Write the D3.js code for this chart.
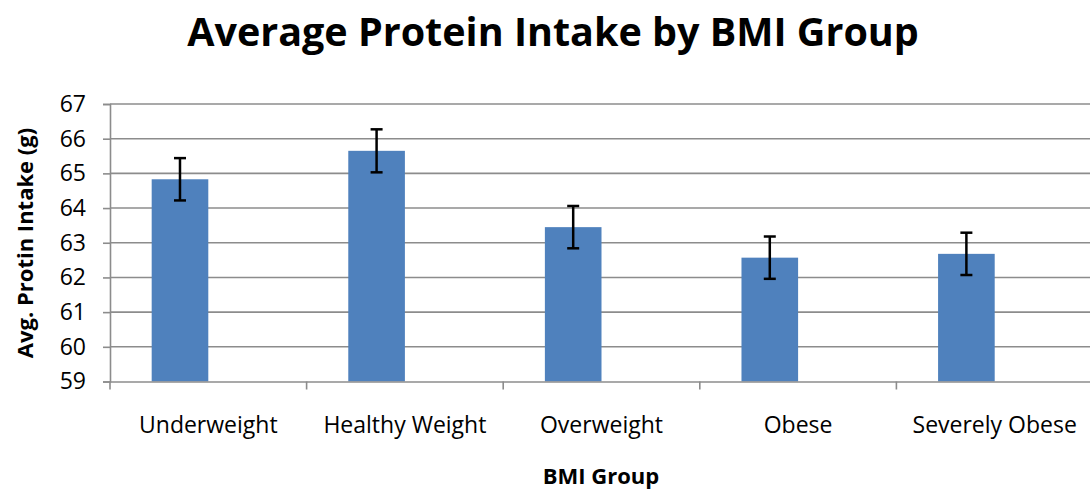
<!DOCTYPE html>
<html>
<head>
<meta charset="utf-8">
<script src="https://cdn.jsdelivr.net/npm/d3@7"></script>
<style>
  html, body { margin: 0; padding: 0; background: #fff; }
  svg { display: block; }
  text { font-family: "Open Sans", Lato, sans-serif; fill: #000; }
</style>
</head>
<body>
<svg id="chart" width="1090" height="491"></svg>
<script>
const categories = ["Underweight", "Healthy Weight", "Overweight", "Obese", "Severely Obese"];
const values = [64.83, 65.65, 63.45, 62.57, 62.68];
const errors = [0.61, 0.62, 0.61, 0.61, 0.61];
const yTicks = [59, 60, 61, 62, 63, 64, 65, 66, 67];
const titleText = "Average Protein Intake by BMI Group";
const xTitle = "BMI Group";
const yTitle = "Avg. Protin Intake (g)";

const svg = d3.select("#chart");
const pLeft = 110, pRight = 1093, pTop = 104, pBottom = 381.5;

const x = d3.scaleBand().domain(categories).range([pLeft, pRight]).padding(0);
const y = d3.scaleLinear().domain([59, 67]).range([pBottom, pTop]);
const barW = x.bandwidth() * 0.288;

// gridlines
svg.append("g").selectAll("line").data(yTicks.slice(1)).join("line")
  .attr("x1", pLeft).attr("x2", pRight)
  .attr("y1", d => y(d)).attr("y2", d => y(d))
  .attr("stroke", "#8c8c8c").attr("stroke-width", 1.6);

// bars
svg.append("g").selectAll("rect").data(categories).join("rect")
  .attr("x", (d) => x(d) + x.bandwidth() / 2 - barW)
  .attr("width", barW)
  .attr("y", (d, i) => y(values[i]))
  .attr("height", (d, i) => y(59) - y(values[i]))
  .attr("fill", "#4f81bd");

// y axis
const yAxis = d3.axisLeft(y).tickValues(yTicks).tickSize(7).tickPadding(17).tickFormat(d3.format("d"));
const gy = svg.append("g").attr("transform", `translate(${pLeft},0)`).call(yAxis);
gy.select(".domain").attr("stroke", "#8c8c8c").attr("stroke-width", 1.6);
gy.selectAll(".tick line").attr("stroke", "#8c8c8c").attr("stroke-width", 1.6);
gy.selectAll("text").style("font-size", "23px").attr("font-family", "'Open Sans', Lato, sans-serif").attr("fill", "#000");

// x axis
const xAxis = d3.axisBottom(x).tickSize(0).tickPadding(0);
const gx = svg.append("g").attr("transform", `translate(0,${pBottom})`).call(xAxis);
gx.select(".domain").attr("stroke", "#8c8c8c").attr("stroke-width", 1.6);
gx.selectAll(".tick text").style("font-size", "23px").attr("font-family", "'Open Sans', Lato, sans-serif")
  .attr("fill", "#000").attr("dy", 0).attr("y", 51);
// boundary ticks between categories
const bounds = categories.map(c => x(c)).concat([pRight]);
gx.append("g").selectAll("line").data(bounds).join("line")
  .attr("x1", d => d).attr("x2", d => d).attr("y1", 0).attr("y2", 8)
  .attr("stroke", "#8c8c8c").attr("stroke-width", 1.6);

// error bars
const eg = svg.append("g");
categories.forEach((c, i) => {
  const cx = x(c) + x.bandwidth() / 2 - barW / 2;
  const y1 = y(values[i] + errors[i]), y2 = y(values[i] - errors[i]);
  eg.append("line").attr("x1", cx).attr("x2", cx).attr("y1", y1).attr("y2", y2)
    .attr("stroke", "#000").attr("stroke-width", 2.5);
  [y1, y2].forEach(yy => eg.append("line").attr("x1", cx - 6).attr("x2", cx + 6)
    .attr("y1", yy).attr("y2", yy).attr("stroke", "#000").attr("stroke-width", 2.5));
});

// titles
svg.append("text").attr("x", 553).attr("y", 46).attr("text-anchor", "middle")
  .style("font-size", "39.5px").style("font-weight", "bold").text(titleText);
svg.append("text").attr("x", 601).attr("y", 484).attr("text-anchor", "middle")
  .style("font-size", "22px").style("font-weight", "bold").text(xTitle);
svg.append("text").attr("transform", "translate(33,243) rotate(-90)").attr("text-anchor", "middle")
  .style("font-size", "22px").style("font-weight", "bold").text(yTitle);
</script>
</body>
</html>
